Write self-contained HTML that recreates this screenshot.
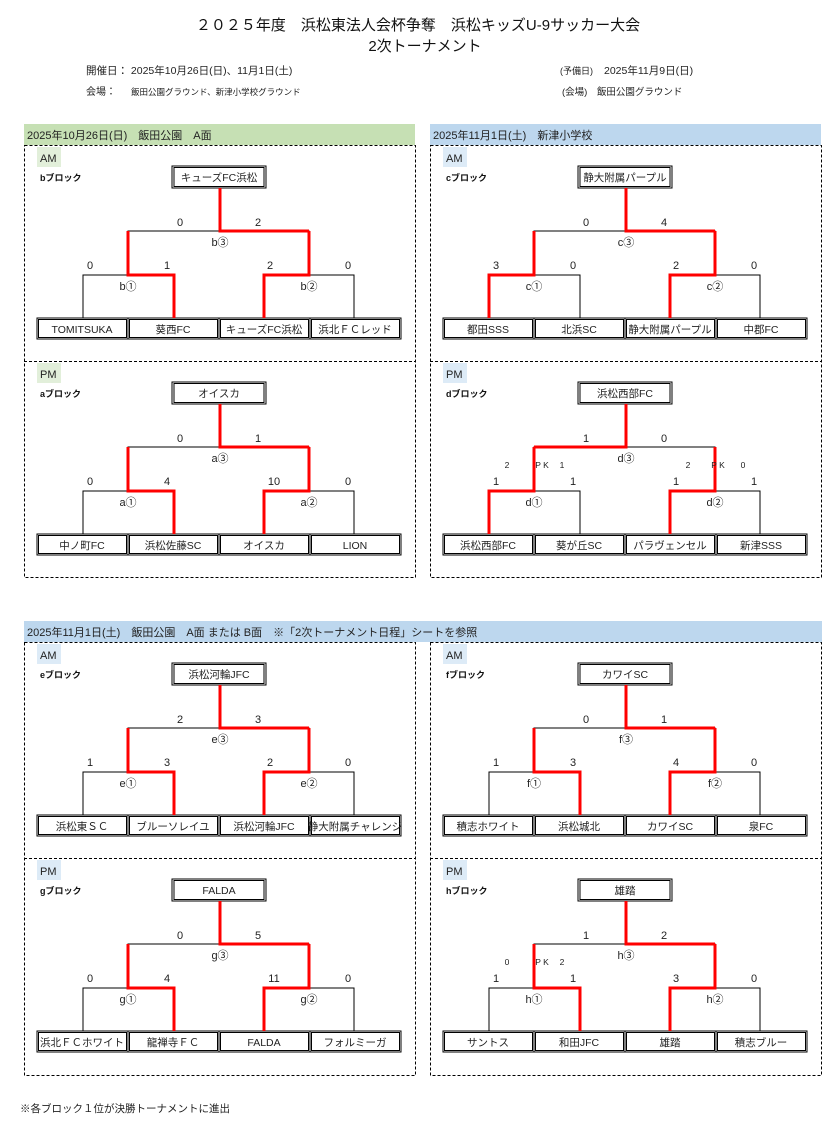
<!DOCTYPE html>
<html><head><meta charset="utf-8"><style>
html,body{margin:0;padding:0;background:#fff;}
svg{display:block;font-family:"Liberation Sans","Noto Sans CJK JP",sans-serif;}
.s{font-size:11px;fill:#222;}
.t{font-size:10.5px;fill:#222;text-anchor:middle;}
.m{text-anchor:middle;}
.blk{font-size:9px;font-weight:bold;fill:#111;}
.pk{font-size:8.5px;fill:#222;}
</style></head><body>
<svg width="836" height="1138" viewBox="0 0 836 1138" xmlns="http://www.w3.org/2000/svg">
<defs>
<g id="sk" fill="none" stroke="#000" stroke-width="1">
<path d="M59,173V130H150V173M240,173V130H330V173M104,130V86H285V130M196,43V86"/>
<rect x="148" y="21" width="94" height="22" fill="#fff"/><rect x="150" y="22.5" width="90" height="19"/>
<rect x="13" y="173" width="91" height="21" fill="#fff"/><rect x="14.5" y="174.5" width="88" height="18"/>
<rect x="104" y="173" width="91" height="21" fill="#fff"/><rect x="105.5" y="174.5" width="88" height="18"/>
<rect x="195" y="173" width="91" height="21" fill="#fff"/><rect x="196.5" y="174.5" width="88" height="18"/>
<rect x="286" y="173" width="91" height="21" fill="#fff"/><rect x="287.5" y="174.5" width="88" height="18"/>
</g>
</defs>
<text x="418" y="30" font-size="15" text-anchor="middle" fill="#111">２０２５年度　浜松東法人会杯争奪　浜松キッズU-9サッカー大会</text>
<text x="425" y="51" font-size="15" text-anchor="middle" fill="#111">2次トーナメント</text>
<text x="86" y="74" font-size="10.5" fill="#222">開催日：  2025年10月26日(日)、11月1日(土)</text>
<text x="86" y="95" font-size="10" fill="#222">会場：</text>
<text x="131" y="95" font-size="8.5" fill="#222">飯田公園グラウンド、新津小学校グラウンド</text>
<text x="560" y="74" font-size="9" fill="#222">(予備日)</text>
<text x="604" y="74" font-size="10.5" fill="#222">2025年11月9日(日)</text>
<text x="562" y="95" font-size="9.5" fill="#222">(会場)　飯田公園グラウンド</text>

<rect x="24" y="124" width="391" height="21" fill="#c6e0b4"/>
<text x="27" y="139" class="s">2025年10月26日(日)　飯田公園　A面</text>
<rect x="430" y="124" width="391" height="21" fill="#bdd7ee"/>
<text x="433" y="139" class="s">2025年11月1日(土)　新津小学校</text>
<rect x="24" y="621" width="798" height="21" fill="#bdd7ee"/>
<text x="27" y="636" class="s">2025年11月1日(土)　飯田公園　A面 または B面　※「2次トーナメント日程」シートを参照</text>

<g fill="none" stroke="#000" stroke-width="1" stroke-dasharray="3,2">
<rect x="24.5" y="145.5" width="391" height="432"/><path d="M24,361.5H415"/>
<rect x="430.5" y="145.5" width="391" height="432"/><path d="M430,361.5H821"/>
<rect x="24.5" y="642.5" width="391" height="433"/><path d="M24,858.5H415"/>
<rect x="430.5" y="642.5" width="391" height="433"/><path d="M430,858.5H821"/>
</g>

<!-- b -->
<g transform="translate(24,145)">
<rect x="13" y="2" width="24" height="20" fill="#e2efda"/><text x="16" y="17" class="s">AM</text>
<text x="16" y="36" class="blk">bブロック</text>
<use href="#sk"/>
<path d="M150,173V130H104V86M240,173V130H285V86M285,86H196V43" fill="none" stroke="#f00" stroke-width="3"/>
<text x="195" y="36" class="t">キューズFC浜松</text>
<text x="156" y="81" class="s m">0</text><text x="234" y="81" class="s m">2</text>
<text x="196" y="101" class="s m">b③</text>
<text x="66" y="124" class="s m">0</text><text x="143" y="124" class="s m">1</text><text x="246" y="124" class="s m">2</text><text x="324" y="124" class="s m">0</text>
<text x="104" y="145" class="s m">b①</text><text x="285" y="145" class="s m">b②</text>
<text x="58" y="188" class="t">TOMITSUKA</text><text x="149" y="188" class="t">葵西FC</text><text x="240" y="188" class="t">キューズFC浜松</text><text x="331" y="188" class="t">浜北ＦＣレッド</text>
</g>
<!-- c -->
<g transform="translate(430,145)">
<rect x="13" y="2" width="24" height="20" fill="#ddebf7"/><text x="16" y="17" class="s">AM</text>
<text x="16" y="36" class="blk">cブロック</text>
<use href="#sk"/>
<path d="M59,173V130H104V86M240,173V130H285V86M285,86H196V43" fill="none" stroke="#f00" stroke-width="3"/>
<text x="195" y="36" class="t">静大附属パープル</text>
<text x="156" y="81" class="s m">0</text><text x="234" y="81" class="s m">4</text>
<text x="196" y="101" class="s m">c③</text>
<text x="66" y="124" class="s m">3</text><text x="143" y="124" class="s m">0</text><text x="246" y="124" class="s m">2</text><text x="324" y="124" class="s m">0</text>
<text x="104" y="145" class="s m">c①</text><text x="285" y="145" class="s m">c②</text>
<text x="58" y="188" class="t">都田SSS</text><text x="149" y="188" class="t">北浜SC</text><text x="240" y="188" class="t">静大附属パープル</text><text x="331" y="188" class="t">中郡FC</text>
</g>
<!-- a -->
<g transform="translate(24,361)">
<rect x="13" y="2" width="24" height="20" fill="#e2efda"/><text x="16" y="17" class="s">PM</text>
<text x="16" y="36" class="blk">aブロック</text>
<use href="#sk"/>
<path d="M150,173V130H104V86M240,173V130H285V86M285,86H196V43" fill="none" stroke="#f00" stroke-width="3"/>
<text x="195" y="36" class="t">オイスカ</text>
<text x="156" y="81" class="s m">0</text><text x="234" y="81" class="s m">1</text>
<text x="196" y="101" class="s m">a③</text>
<text x="66" y="124" class="s m">0</text><text x="143" y="124" class="s m">4</text><text x="250" y="124" class="s m">10</text><text x="324" y="124" class="s m">0</text>
<text x="104" y="145" class="s m">a①</text><text x="285" y="145" class="s m">a②</text>
<text x="58" y="188" class="t">中ノ町FC</text><text x="149" y="188" class="t">浜松佐藤SC</text><text x="240" y="188" class="t">オイスカ</text><text x="331" y="188" class="t">LION</text>
</g>
<!-- d -->
<g transform="translate(430,361)">
<rect x="13" y="2" width="24" height="20" fill="#ddebf7"/><text x="16" y="17" class="s">PM</text>
<text x="16" y="36" class="blk">dブロック</text>
<use href="#sk"/>
<path d="M59,173V130H104V86M240,173V130H285V86M104,86H196V43" fill="none" stroke="#f00" stroke-width="3"/>
<text x="195" y="36" class="t">浜松西部FC</text>
<text x="156" y="81" class="s m">1</text><text x="234" y="81" class="s m">0</text>
<text x="196" y="101" class="s m">d③</text>
<text x="77" y="107" class="pk m">2</text><text x="112" y="107" class="pk m">P K</text><text x="132" y="107" class="pk m">1</text>
<text x="258" y="107" class="pk m">2</text><text x="288" y="107" class="pk m">P K</text><text x="313" y="107" class="pk m">0</text>
<text x="66" y="124" class="s m">1</text><text x="143" y="124" class="s m">1</text><text x="246" y="124" class="s m">1</text><text x="324" y="124" class="s m">1</text>
<text x="104" y="145" class="s m">d①</text><text x="285" y="145" class="s m">d②</text>
<text x="58" y="188" class="t">浜松西部FC</text><text x="149" y="188" class="t">葵が丘SC</text><text x="240" y="188" class="t">パラヴェンセル</text><text x="331" y="188" class="t">新津SSS</text>
</g>
<!-- e -->
<g transform="translate(24,642)">
<rect x="13" y="2" width="24" height="20" fill="#ddebf7"/><text x="16" y="17" class="s">AM</text>
<text x="16" y="36" class="blk">eブロック</text>
<use href="#sk"/>
<path d="M150,173V130H104V86M240,173V130H285V86M285,86H196V43" fill="none" stroke="#f00" stroke-width="3"/>
<text x="195" y="36" class="t">浜松河輪JFC</text>
<text x="156" y="81" class="s m">2</text><text x="234" y="81" class="s m">3</text>
<text x="196" y="101" class="s m">e③</text>
<text x="66" y="124" class="s m">1</text><text x="143" y="124" class="s m">3</text><text x="246" y="124" class="s m">2</text><text x="324" y="124" class="s m">0</text>
<text x="104" y="145" class="s m">e①</text><text x="285" y="145" class="s m">e②</text>
<text x="58" y="188" class="t">浜松東ＳＣ</text><text x="149" y="188" class="t">ブルーソレイユ</text><text x="240" y="188" class="t">浜松河輪JFC</text><text x="331" y="188" class="t" font-size="9.3">静大附属チャレンジ</text>
</g>
<!-- f -->
<g transform="translate(430,642)">
<rect x="13" y="2" width="24" height="20" fill="#ddebf7"/><text x="16" y="17" class="s">AM</text>
<text x="16" y="36" class="blk">fブロック</text>
<use href="#sk"/>
<path d="M150,173V130H104V86M240,173V130H285V86M285,86H196V43" fill="none" stroke="#f00" stroke-width="3"/>
<text x="195" y="36" class="t">カワイSC</text>
<text x="156" y="81" class="s m">0</text><text x="234" y="81" class="s m">1</text>
<text x="196" y="101" class="s m">f③</text>
<text x="66" y="124" class="s m">1</text><text x="143" y="124" class="s m">3</text><text x="246" y="124" class="s m">4</text><text x="324" y="124" class="s m">0</text>
<text x="104" y="145" class="s m">f①</text><text x="285" y="145" class="s m">f②</text>
<text x="58" y="188" class="t">積志ホワイト</text><text x="149" y="188" class="t">浜松城北</text><text x="240" y="188" class="t">カワイSC</text><text x="331" y="188" class="t">泉FC</text>
</g>
<!-- g -->
<g transform="translate(24,858)">
<rect x="13" y="2" width="24" height="20" fill="#ddebf7"/><text x="16" y="17" class="s">PM</text>
<text x="16" y="36" class="blk">gブロック</text>
<use href="#sk"/>
<path d="M150,173V130H104V86M240,173V130H285V86M285,86H196V43" fill="none" stroke="#f00" stroke-width="3"/>
<text x="195" y="36" class="t">FALDA</text>
<text x="156" y="81" class="s m">0</text><text x="234" y="81" class="s m">5</text>
<text x="196" y="101" class="s m">g③</text>
<text x="66" y="124" class="s m">0</text><text x="143" y="124" class="s m">4</text><text x="250" y="124" class="s m">11</text><text x="324" y="124" class="s m">0</text>
<text x="104" y="145" class="s m">g①</text><text x="285" y="145" class="s m">g②</text>
<text x="58" y="188" class="t">浜北ＦＣホワイト</text><text x="149" y="188" class="t">龍禅寺ＦＣ</text><text x="240" y="188" class="t">FALDA</text><text x="331" y="188" class="t">フォルミーガ</text>
</g>
<!-- h -->
<g transform="translate(430,858)">
<rect x="13" y="2" width="24" height="20" fill="#ddebf7"/><text x="16" y="17" class="s">PM</text>
<text x="16" y="36" class="blk">hブロック</text>
<use href="#sk"/>
<path d="M150,173V130H104V86M240,173V130H285V86M285,86H196V43" fill="none" stroke="#f00" stroke-width="3"/>
<text x="195" y="36" class="t">雄踏</text>
<text x="156" y="81" class="s m">1</text><text x="234" y="81" class="s m">2</text>
<text x="196" y="101" class="s m">h③</text>
<text x="77" y="107" class="pk m">0</text><text x="112" y="107" class="pk m">P K</text><text x="132" y="107" class="pk m">2</text>
<text x="66" y="124" class="s m">1</text><text x="143" y="124" class="s m">1</text><text x="246" y="124" class="s m">3</text><text x="324" y="124" class="s m">0</text>
<text x="104" y="145" class="s m">h①</text><text x="285" y="145" class="s m">h②</text>
<text x="58" y="188" class="t">サントス</text><text x="149" y="188" class="t">和田JFC</text><text x="240" y="188" class="t">雄踏</text><text x="331" y="188" class="t">積志ブルー</text>
</g>

<text x="20" y="1112" font-size="10.5" fill="#222">※各ブロック１位が決勝トーナメントに進出</text>
</svg>
</body></html>
